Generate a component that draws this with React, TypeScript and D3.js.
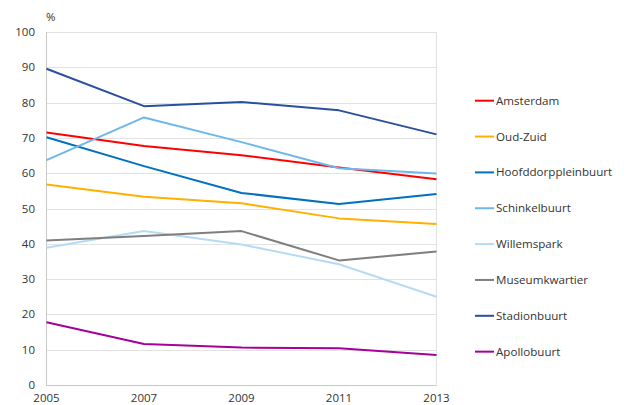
import React from "react";
import * as d3 from "d3";

const years = [2005, 2007, 2009, 2011, 2013];
const yTicks = [0, 10, 20, 30, 40, 50, 60, 70, 80, 90, 100];
const seriesNames = ["Amsterdam", "Oud-Zuid", "Hoofddorppleinbuurt", "Schinkelbuurt", "Willemspark", "Museumkwartier", "Stadionbuurt", "Apollobuurt"];
const colors = ["#ff0000", "#ffb000", "#0070c0", "#6cb8ec", "#b4dbf6", "#7f7f7f", "#2a4f9f", "#a5009a"];
const amsterdam = [71.5, 67.7, 65.1, 61.6, 58.3];
const oudZuid = [56.8, 53.3, 51.5, 47.2, 45.6];
const hoofddorp = [70.2, 62.0, 54.4, 51.3, 54.1];
const schinkel = [63.7, 75.8, 68.8, 61.4, 59.9];
const willemspark = [38.9, 43.6, 39.8, 34.2, 25.0];
const museum = [40.9, 42.2, 43.6, 35.3, 37.8];
const stadion = [89.6, 79.0, 80.2, 77.8, 71.0];
const apollo = [17.8, 11.6, 10.6, 10.4, 8.5];
const allSeries = [amsterdam, oudZuid, hoofddorp, schinkel, willemspark, museum, stadion, apollo];

export default function App() {
  const W = 627, H = 405;
  const x = d3.scalePoint<number>().domain(years).range([46.5, 436.5]);
  const y = d3.scaleLinear().domain([0, 100]).range([385, 32]);
  const line = d3.line<number>().x((_, i) => x(years[i])!).y((v) => y(v));
  const font = "'Open Sans', sans-serif";
  return (
    <svg width={W} height={H} style={{ position: "absolute", left: 0, top: 0 }} fontFamily={font}>
      <rect width={W} height={H} fill="#fff" />
      {yTicks.map((t) => (
        <line key={t} x1={46.5} x2={436.5} y1={Math.round(y(t)) + 0.5} y2={Math.round(y(t)) + 0.5} stroke="#e2e2e2" strokeWidth={1} />
      ))}
      <line x1={436.5} x2={436.5} y1={32} y2={385} stroke="#e2e2e2" />
      <line x1={46.5} x2={46.5} y1={32} y2={385.5} stroke="#c8c8c8" />
      <line x1={46.5} x2={436.5} y1={385.5} y2={385.5} stroke="#c8c8c8" />
      {yTicks.map((t) => (
        <text key={t} x={35} y={y(t) + 4} fontSize={11.5} textAnchor="end" fill="#333">{t}</text>
      ))}
      <text x={46} y={21} fontSize={11.5} fill="#333">%</text>
      {years.map((yr) => (
        <text key={yr} x={x(yr)!} y={402} fontSize={11.5} textAnchor="middle" fill="#333">{yr}</text>
      ))}
      {allSeries.map((s, i) => (
        <path key={i} d={line(s)!} fill="none" stroke={colors[i]} strokeWidth={2} strokeLinejoin="round" />
      ))}
      {seriesNames.map((n, i) => {
        const ly = 100.7 + i * 35.85;
        return (
          <g key={n}>
            <line x1={475} x2={494} y1={ly} y2={ly} stroke={colors[i]} strokeWidth={2} />
            <text x={496} y={ly + 4} fontSize={11.6} fill="#333">{n}</text>
          </g>
        );
      })}
    </svg>
  );
}
